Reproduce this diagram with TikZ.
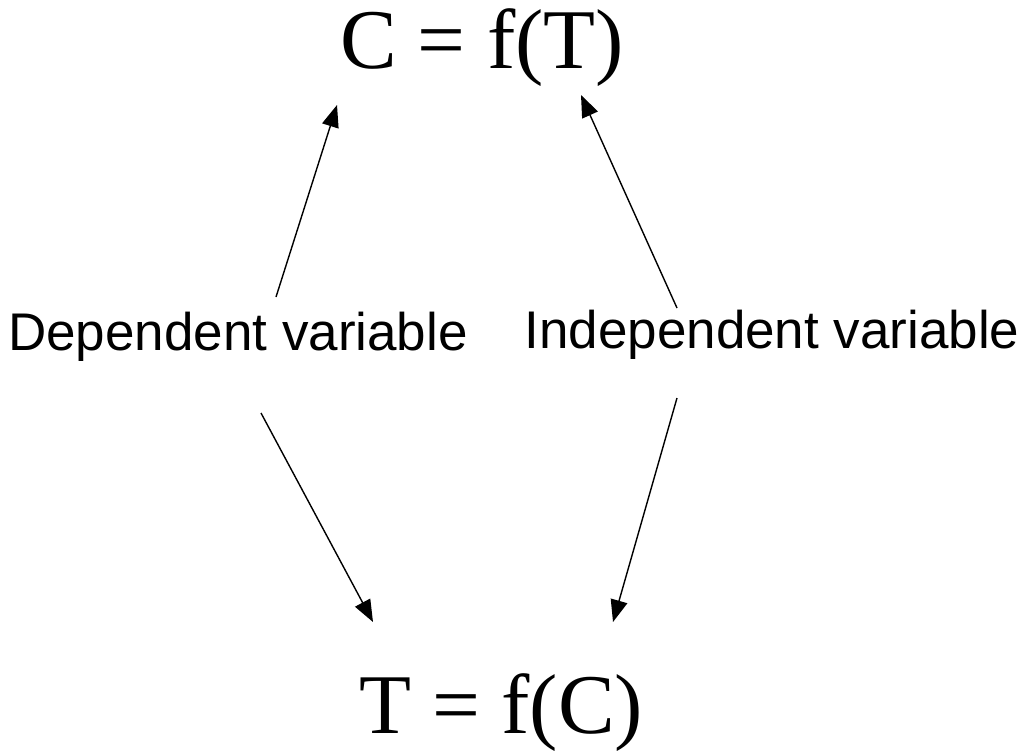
\documentclass[tikz,border=0pt]{standalone}
\usepackage{fontspec}
\setmainfont{Liberation Serif}
\newfontfamily\labelfont{Liberation Sans}
\usetikzlibrary{arrows.meta}
\tikzset{
  formula/.style={inner sep=0pt, anchor=base, font=\fontsize{85}{100}\selectfont},
  varlabel/.style={inner sep=0pt, anchor=base, font=\labelfont\fontsize{53}{60}\selectfont},
  conn/.style={line width=1.4pt, -{Triangle[length=22pt,width=17pt]}}
}
\begin{document}
\begin{tikzpicture}[x=1pt,y=-1pt]
\useasboundingbox[fill=white] (0,0) rectangle (1027,750);
\node[formula] (top) at (482,68) {C = f(T)};
\node[formula] (bot) at (501,733) {T = f(C)};
\node[varlabel] (dep) at (238,350) {Dependent variable};
\node[varlabel] (ind) at (772,348) {Independent variable};
\coordinate (s1) at (276,297);
\coordinate (e1) at (337,105);
\coordinate (s2) at (677,308);
\coordinate (e2) at (581,95);
\coordinate (s3) at (261,413);
\coordinate (e3) at (373,622);
\coordinate (s4) at (677,398);
\coordinate (e4) at (613,622);
\draw[conn] (s1) -- (e1);
\draw[conn] (s2) -- (e2);
\draw[conn] (s3) -- (e3);
\draw[conn] (s4) -- (e4);
\end{tikzpicture}
\end{document}
